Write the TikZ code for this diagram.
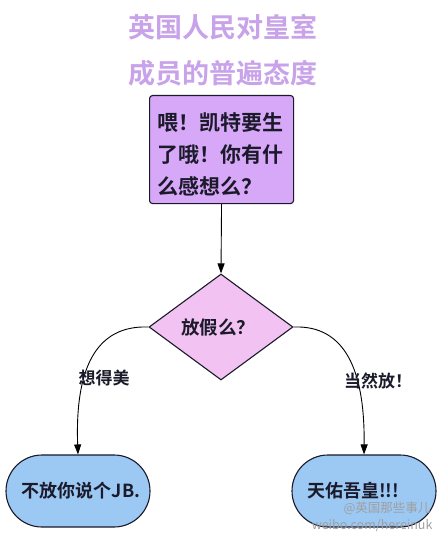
\documentclass[tikz,border=0pt]{standalone}
\usepackage{fontspec}
\setmainfont{Noto Sans CJK SC}[BoldFont={* Bold}]
\newfontfamily\cjkb{Noto Sans CJK SC Bold}
\usetikzlibrary{shapes.geometric,arrows.meta}
\definecolor{titlec}{HTML}{C9A3EA}
\definecolor{boxc}{HTML}{D8A8F8}
\definecolor{diac}{HTML}{F2C2F2}
\definecolor{bluec}{HTML}{9CC8F4}
\definecolor{inkc}{HTML}{1A1A2A}
\tikzset{
  titletext/.style={text=titlec,font=\cjkb\fontsize{27}{30}\selectfont},
  ink/.style={draw=inkc,line width=1.1pt},
  flow/.style={draw=black,line width=0.9pt,-{Triangle[length=10pt,width=7pt]}},
  lbl/.style={font=\cjkb\fontsize{17}{19}\selectfont,text=inkc},
  endbox/.style={ink,fill=bluec,rounded corners=36pt,minimum width=144pt,minimum height=72pt,font=\cjkb\fontsize{18}{20}\selectfont,text=inkc,inner sep=0pt},
  wm/.style={text=gray!75,font=\fontsize{12.5}{13}\selectfont}
}
\begin{document}
\begin{tikzpicture}[x=1pt,y=-1pt]
\useasboundingbox (0,0) rectangle (440,537);
\fill[white] (0,0) rectangle (440,537);
\node[titletext] (t1) at (223,27) {英国人民对皇室};
\node[titletext] (t2) at (223,73) {成员的普遍态度};
\node[ink,fill=boxc,rounded corners=3pt,minimum width=144pt,minimum height=108pt,anchor=north west,inner sep=0pt] (q) at (149,95) {};
\node[anchor=west,align=left,font=\cjkb\fontsize{21}{32}\selectfont,text=inkc] (qt) at (154,154) {喂！凯特要生\\了哦！你有什\\么感想么？};
\node[diamond,ink,fill=diac,minimum width=144pt,minimum height=106pt,inner sep=0pt,aspect=1.36] (d) at (221,327) {};
\node[font=\cjkb\fontsize{18.5}{20}\selectfont,text=inkc] (dt) at (218,327) {放假么？};
\node[endbox] (l) at (78,491) {\hspace*{6pt}不放你说个JB.};
\node[endbox] (r) at (364,491) {\hspace*{-22pt}天佑吾皇!!!};
\draw[flow] (q.south) -- (d.north);
\draw[flow] (d.west) .. controls (95,325) and (75,370) .. (l.north);
\draw[flow] (d.east) .. controls (345,325) and (365,370) .. (r.north);
\node[lbl] (ll) at (104,378) {想得美};
\node[lbl] (rl) at (378,381) {当然放！};
\node[wm,anchor=east] (w1) at (434,508) {@英国那些事儿};
\node[wm,anchor=east] (w2) at (436,526) {weibo.com/hereinuk};
\end{tikzpicture}
\end{document}
